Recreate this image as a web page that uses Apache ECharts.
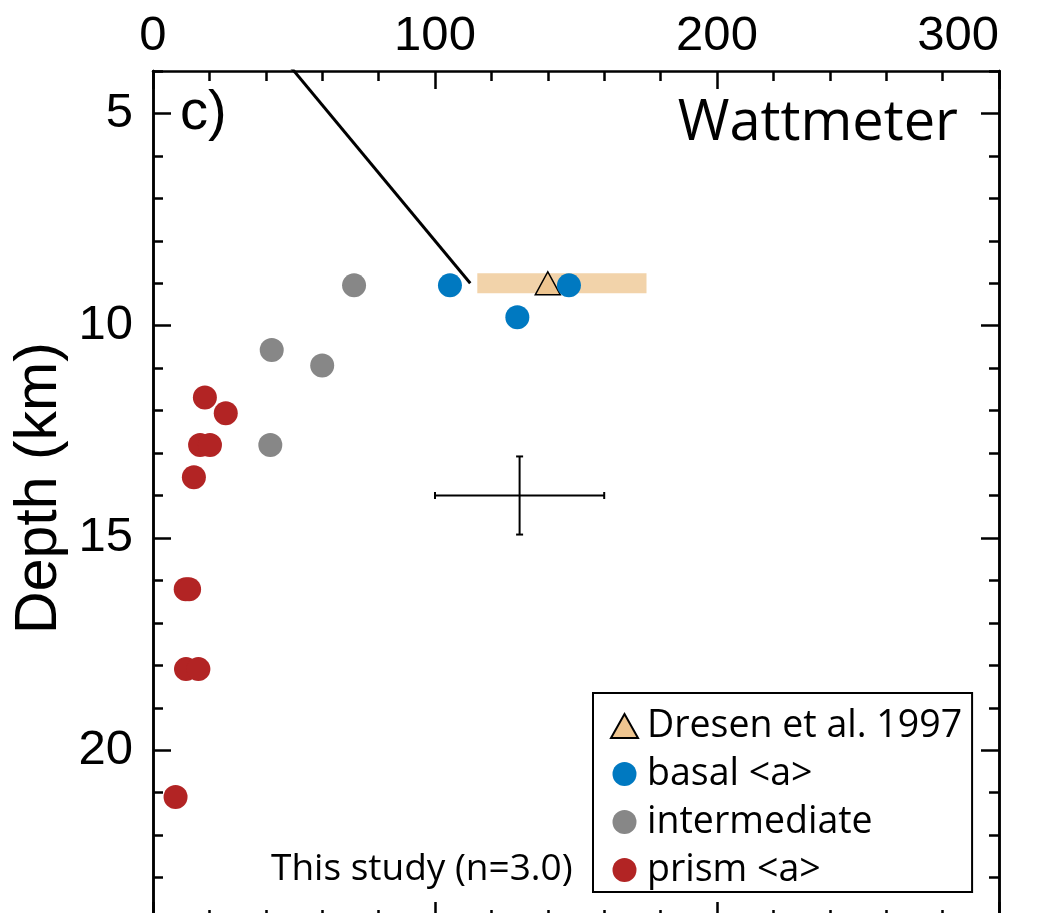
<!DOCTYPE html>
<html>
<head>
<meta charset="utf-8">
<script src="https://cdn.jsdelivr.net/npm/echarts@6/dist/echarts.min.js"></script>
<style>
  html, body { margin: 0; padding: 0; background: #fff; overflow: hidden; width: 1049px; height: 913px; }
  #chart { width: 1049px; height: 930px; }
</style>
</head>
<body>
<div id="chart"></div>
<script>
// ---- data (x = Wattmeter value, y = depth in km) ----
const xTickLabels = [0, 100, 200, 300];
const depthTickLabels = [5, 10, 15, 20];
const dresen = [[140, 9.0]];
const dresenRange = [[115, 9.0], [175, 9.0]];
const basal = [[105.3, 9.05], [147.5, 9.05], [129.2, 9.8]];
const intermediate = [[71.3, 9.05], [42.1, 10.57], [60.0, 10.94], [41.6, 12.81]];
const prism = [[18.4, 11.69], [25.8, 12.06], [16.7, 12.81], [20.2, 12.81], [14.5, 13.57],
               [11.6, 16.21], [12.8, 16.21], [11.7, 18.09], [16.1, 18.09], [8.0, 21.1]];
const wattLine = [[0, 0], [112.5, 9.0]];
// error cross: [x, depth, xError, depthError]
const errorCross = [[130, 14.0, 30, 0.92]];

const sans = 'Liberation Sans, Arial, Helvetica, sans-serif';
const hum = 'Open Sans, Noto Sans, sans-serif';

const chart = echarts.init(document.getElementById('chart'), null, { renderer: 'canvas' });

const axisLine = { show: true, onZero: false, lineStyle: { color: '#000', width: 2.5 } };

function xAxisDef(pos, showLabel) {
  return {
    type: 'value', position: pos, min: 0, max: 300, interval: 100,
    axisLine: axisLine,
    axisTick: { show: true, inside: true, length: 18, lineStyle: { color: '#000', width: 2.5 } },
    minorTick: { show: true, splitNumber: 5, length: 10, lineStyle: { color: '#000', width: 2.5 } },
    splitLine: { show: false }, minorSplitLine: { show: false },
    axisLabel: {
      show: showLabel, margin: 10, color: '#000', fontSize: 49, fontFamily: sans,
      alignMaxLabel: 'right',
      formatter: v => (xTickLabels.indexOf(v) >= 0 ? String(v) : '')
    }
  };
}

function yMinorDef(pos) {
  return {
    type: 'value', position: pos, inverse: true, min: 4, max: 24, interval: 1,
    axisLine: axisLine,
    axisTick: { show: true, inside: true, length: 10, lineStyle: { color: '#000', width: 2.5 } },
    axisLabel: { show: false },
    splitLine: { show: false }
  };
}
function yMajorDef(pos, showLabel) {
  return {
    type: 'value', position: pos, inverse: true, min: 4, max: 24,
    axisLine: axisLine,
    axisTick: { show: true, inside: true, length: 18, customValues: depthTickLabels,
                lineStyle: { color: '#000', width: 2.5 } },
    axisLabel: { show: showLabel, customValues: depthTickLabels, margin: 20, color: '#000',
                 fontSize: 49, fontFamily: sans },
    splitLine: { show: false }
  };
}

const option = {
  backgroundColor: '#fff',
  animation: false,
  grid: { left: 153, top: 71, width: 846, height: 849, containLabel: false },
  xAxis: [xAxisDef('top', true), xAxisDef('bottom', false)],
  yAxis: [yMinorDef('left'), yMajorDef('left', true), yMinorDef('right'), yMajorDef('right', false)],
  legend: {
    orient: 'vertical', left: 593, top: 693,
    data: ['Dresen et al. 1997', 'basal <a>', 'intermediate', 'prism <a>'],
    itemWidth: 27, itemHeight: 24, itemGap: 8,
    padding: [13, 10, 2, 17],
    borderColor: '#000', borderWidth: 2, borderRadius: 0,
    backgroundColor: '#fff',
    textStyle: { color: '#000', fontSize: 37.5, fontFamily: hum, lineHeight: 40, padding: [0, 0, 0, 4] }
  },
  graphic: [
    { type: 'text', left: 180, top: 86, style: { text: 'c)', fontSize: 56, fontFamily: sans, fill: '#000' } },
    { type: 'text', right: 91, top: 96, style: { text: 'Wattmeter', fontSize: 56, fontFamily: hum, fill: '#000' } },
    { type: 'text', left: 271, top: 851, style: { text: 'This study (n=3.0)', fontSize: 37, fontFamily: hum, fill: '#000' } },
    { type: 'text', x: 40, y: 488, rotation: Math.PI / 2,
      style: { text: 'Depth (km)', fontSize: 59, fontFamily: sans, fill: '#000', align: 'center', verticalAlign: 'middle' } }
  ],
  series: [
    { name: 'range', type: 'line', data: dresenRange, xAxisIndex: 0, yAxisIndex: 0,
      symbol: 'none', silent: true, z: 1,
      lineStyle: { color: '#F2D3AA', width: 20, cap: 'butt' } },
    { name: 'model', type: 'line', data: wattLine, xAxisIndex: 0, yAxisIndex: 0,
      symbol: 'none', silent: true, z: 2, clip: true,
      lineStyle: { color: '#000', width: 3 } },
    { name: 'error', type: 'custom', xAxisIndex: 0, yAxisIndex: 0, data: errorCross, z: 2,
      renderItem: function (params, api) {
        const x = api.value(0), y = api.value(1), ex = api.value(2), ey = api.value(3);
        const l = api.coord([x - ex, y]), r = api.coord([x + ex, y]);
        const t = api.coord([x, y - ey]), b = api.coord([x, y + ey]);
        const cap = 3.5;
        const st = { stroke: '#000', lineWidth: 2 };
        return { type: 'group', children: [
          { type: 'line', shape: { x1: l[0], y1: l[1], x2: r[0], y2: r[1] }, style: st },
          { type: 'line', shape: { x1: l[0], y1: l[1] - cap, x2: l[0], y2: l[1] + cap }, style: st },
          { type: 'line', shape: { x1: r[0], y1: r[1] - cap, x2: r[0], y2: r[1] + cap }, style: st },
          { type: 'line', shape: { x1: t[0], y1: t[1], x2: b[0], y2: b[1] }, style: st },
          { type: 'line', shape: { x1: t[0] - cap, y1: t[1], x2: t[0] + cap, y2: t[1] }, style: st },
          { type: 'line', shape: { x1: b[0] - cap, y1: b[1], x2: b[0] + cap, y2: b[1] }, style: st }
        ] };
      } },
    { name: 'Dresen et al. 1997', type: 'scatter', data: dresen, xAxisIndex: 0, yAxisIndex: 0,
      symbol: 'triangle', symbolSize: [25, 23], z: 3,
      itemStyle: { color: '#EEC590', borderColor: '#000', borderWidth: 1.5, opacity: 1 } },
    { name: 'basal <a>', type: 'scatter', data: basal, xAxisIndex: 0, yAxisIndex: 0,
      symbol: 'circle', symbolSize: 24, z: 4, itemStyle: { color: '#0079C1', opacity: 1 } },
    { name: 'intermediate', type: 'scatter', data: intermediate, xAxisIndex: 0, yAxisIndex: 0,
      symbol: 'circle', symbolSize: 24, z: 4, itemStyle: { color: '#878787', opacity: 1 } },
    { name: 'prism <a>', type: 'scatter', data: prism, xAxisIndex: 0, yAxisIndex: 0,
      symbol: 'circle', symbolSize: 24, z: 4, itemStyle: { color: '#B22424', opacity: 1 } }
  ]
};
chart.setOption(option);
</script>
</body>
</html>
